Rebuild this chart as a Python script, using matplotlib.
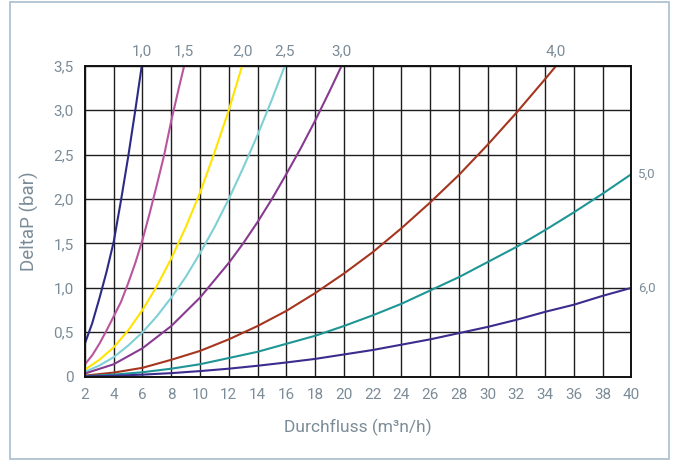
import matplotlib.pyplot as plt
from matplotlib.patches import Rectangle

plt.rcParams['font.family'] = ['Roboto', 'DejaVu Sans']

TEXT = '#7b8c98'

# readings per size curve: flow (m3n/h) -> DeltaP (bar)
x_10 = [2, 2.5, 3, 3.5, 4, 4.5, 5, 5.5, 5.95]
y_10 = [0.376, 0.60, 0.88, 1.18, 1.52, 1.98, 2.47, 3.0, 3.5]

x_15 = [2, 2.5, 3, 3.5, 4, 4.5, 5, 5.5, 6, 6.5, 7, 7.5, 8, 8.5, 8.9]
y_15 = [0.14, 0.24, 0.37, 0.52, 0.68, 0.84, 1.05, 1.28, 1.54, 1.84, 2.16, 2.49, 2.88, 3.23, 3.5]

x_20 = [2, 3, 4, 5, 6, 7, 8, 9, 10, 11, 12, 12.93]
y_20 = [0.08, 0.19, 0.33, 0.52, 0.75, 1.02, 1.33, 1.68, 2.07, 2.52, 3.0, 3.5]

x_25 = [2, 3, 4, 5, 6, 7, 8, 9, 10, 11, 12, 13, 14, 15, 15.9]
y_25 = [0.055, 0.125, 0.22, 0.35, 0.50, 0.68, 0.89, 1.12, 1.39, 1.68, 2.0, 2.35, 2.72, 3.12, 3.5]

x_30 = [2, 4, 6, 8, 10, 12, 13, 14, 15, 16, 17, 18, 19, 19.85]
y_30 = [0.036, 0.14, 0.32, 0.57, 0.89, 1.28, 1.50, 1.74, 2.0, 2.28, 2.57, 2.88, 3.21, 3.5]

x_40 = [2, 4, 6, 8, 10, 12, 14, 16, 18, 20, 22, 24, 26, 28, 30, 32, 34, 34.77]
y_40 = [0.012, 0.046, 0.10, 0.19, 0.29, 0.42, 0.57, 0.74, 0.94, 1.16, 1.40, 1.67, 1.96, 2.27, 2.61, 2.97, 3.35, 3.5]

x_50 = [2, 4, 6, 8, 10, 12, 14, 16, 18, 20, 22, 24, 26, 28, 30, 32, 34, 36, 38, 40]
y_50 = [0.006, 0.023, 0.05, 0.09, 0.14, 0.21, 0.28, 0.37, 0.46, 0.57, 0.69, 0.82, 0.97, 1.12, 1.29, 1.46, 1.65, 1.85, 2.06, 2.28]

x_60 = [2, 4, 6, 8, 10, 12, 14, 16, 18, 20, 22, 24, 26, 28, 30, 32, 34, 36, 38, 40]
y_60 = [0.003, 0.01, 0.023, 0.04, 0.063, 0.09, 0.123, 0.16, 0.20, 0.25, 0.30, 0.36, 0.42, 0.49, 0.56, 0.64, 0.73, 0.81, 0.91, 1.0]

top_labels = ['1,0', '1,5', '2,0', '2,5', '3,0', '4,0']
right_labels = ['5,0', '6,0']

x_ticks = list(range(2, 41, 2))
y_ticks = [0, 0.5, 1.0, 1.5, 2.0, 2.5, 3.0, 3.5]
y_tick_labels = ['0', '0,5', '1,0', '1,5', '2,0', '2,5', '3,0', '3,5']

series = [
    (x_10, y_10, '#2b2a86'),
    (x_15, y_15, '#b8559e'),
    (x_20, y_20, '#ffe400'),
    (x_25, y_25, '#7fd0d6'),
    (x_30, y_30, '#883a90'),
    (x_40, y_40, '#a5351f'),
    (x_50, y_50, '#1f9595'),
    (x_60, y_60, '#3b2c8e'),
]

fig = plt.figure(figsize=(6.76, 4.61), dpi=100)
fig.patches.append(Rectangle((10 / 676, 1 - 459 / 461), 659 / 676, 457 / 461,
                             transform=fig.transFigure, fill=False,
                             edgecolor='#a9bdcc', linewidth=1.2))
ax = fig.add_axes([0.1257, 0.1829, 0.8084, 0.6746])

for xs, ys, c in series:
    ax.plot(xs, ys, color=c, linewidth=1.5, solid_capstyle='butt')

ax.set_xlim(2, 40)
ax.set_ylim(0, 3.5)
ax.set_xticks(x_ticks)
ax.set_xticklabels([str(t) for t in x_ticks])
ax.set_yticks(y_ticks)
ax.set_yticklabels(y_tick_labels)
ax.grid(True, color='#1e1e1e', linewidth=1.0)
ax.set_axisbelow(True)
ax.tick_params(length=0, labelsize=11, colors=TEXT, pad=8)
for s in ax.spines.values():
    s.set_color('#111111')
    s.set_linewidth(1.4)

ax.set_xlabel('Durchfluss (m³n/h)', fontsize=12.5, color=TEXT, labelpad=12)
ax.set_ylabel('DeltaP (bar)', fontsize=13.5, color=TEXT, labelpad=10)

# size labels at the end of each curve
for lab, xs in zip(top_labels, [x_10, x_15, x_20, x_25, x_30, x_40]):
    ax.annotate(lab, (xs[-1], 3.5), xytext=(0, 5), textcoords='offset points',
                ha='center', va='bottom', fontsize=11, color=TEXT)
for lab, ys in zip(right_labels, [y_50, y_60]):
    ax.annotate(lab, (40, ys[-1]), xytext=(5, 0), textcoords='offset points',
                ha='left', va='center', fontsize=9.5, color=TEXT)

fig.savefig('out.png', dpi=100)
